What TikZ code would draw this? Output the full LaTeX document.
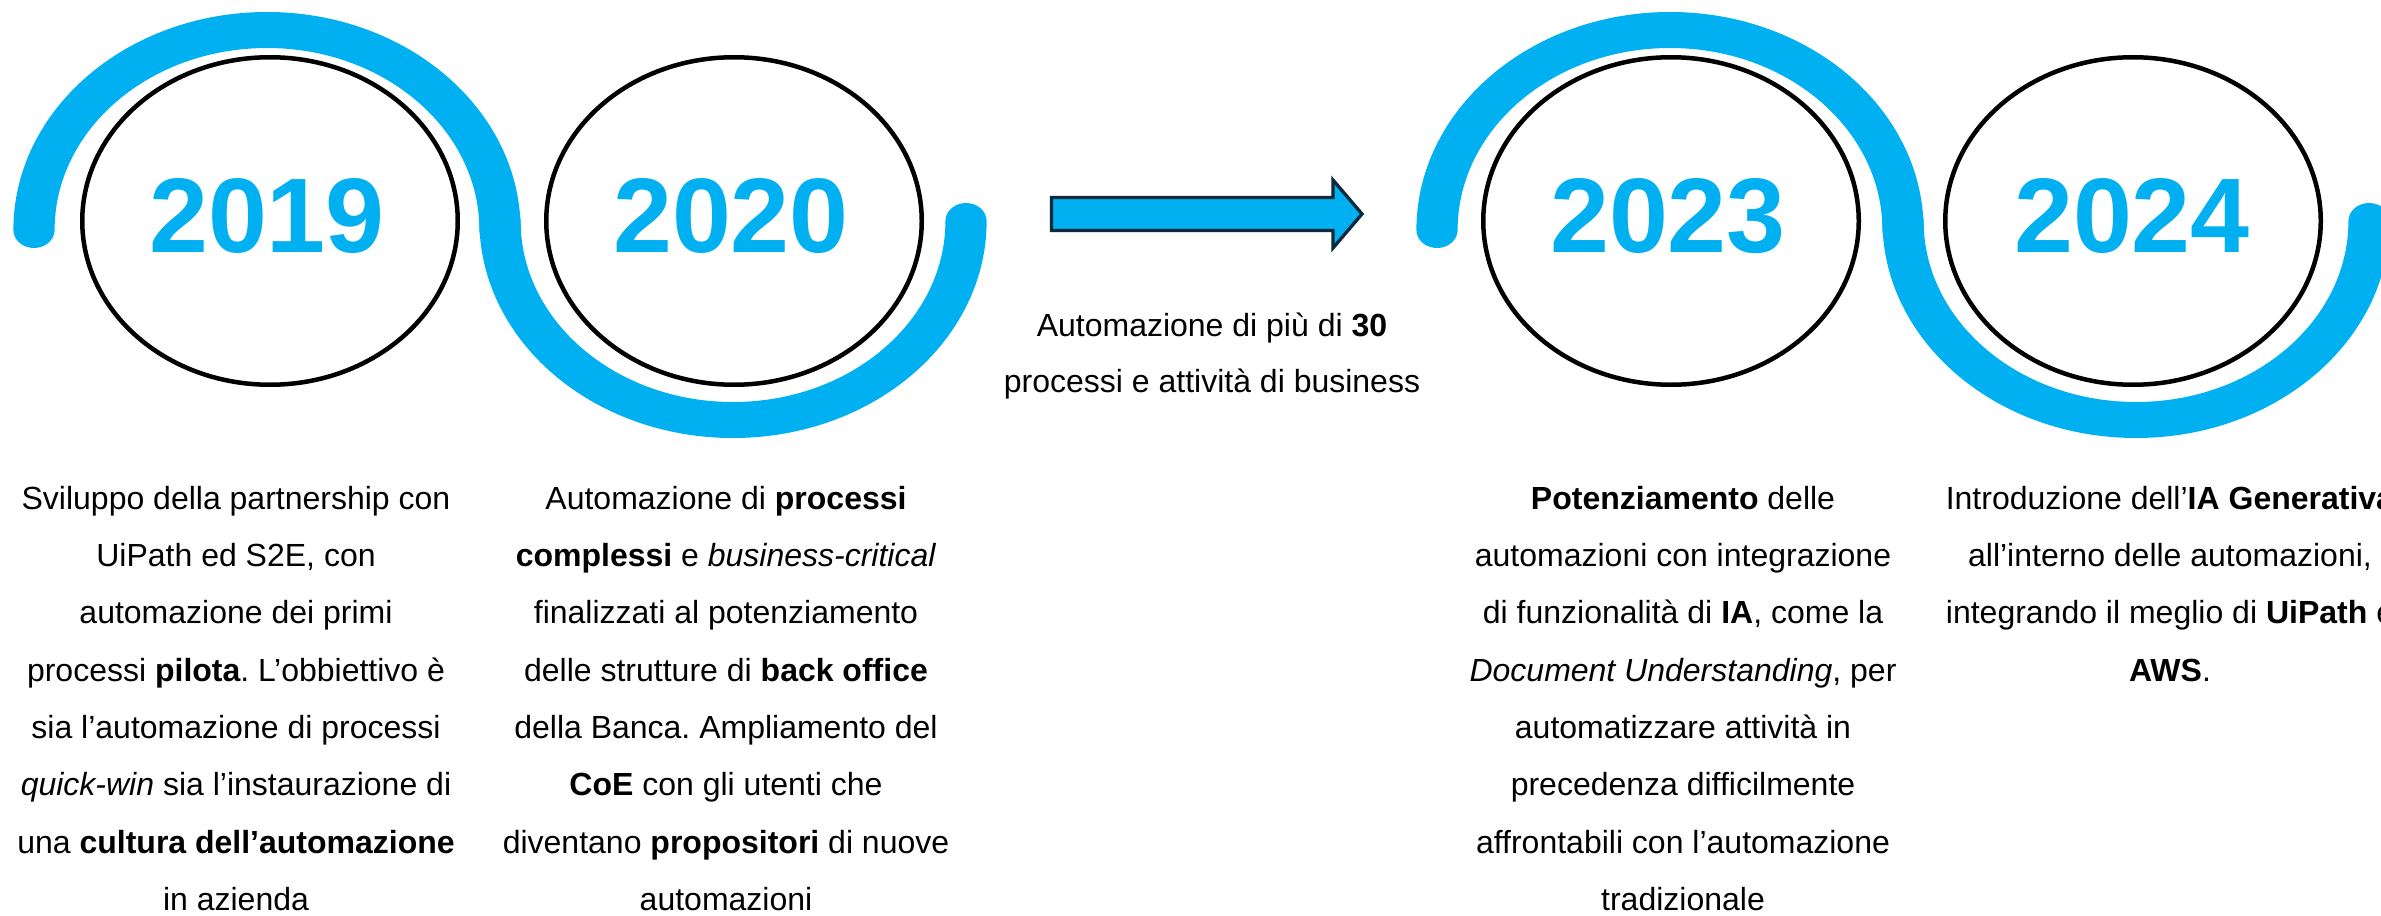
\documentclass[tikz,border=0pt]{standalone}
\usepackage{fontspec}
\setmainfont{Liberation Sans}
\usetikzlibrary{shapes.geometric}
\definecolor{ablue}{HTML}{00B0F0}
\definecolor{anavy}{HTML}{0D2A3B}
\frenchspacing
\begin{document}
\begin{tikzpicture}[x=1pt,y=-1pt,
  curve/.style={draw=ablue, line width=36pt, line cap=round},
  yearring/.style={ellipse, draw=black, line width=4.5pt, minimum width=375.5pt, minimum height=327.5pt, inner sep=0pt},
  yeartext/.style={font=\fontsize{106}{110}\selectfont\bfseries, text=ablue, inner sep=0pt},
  desc/.style={font=\fontsize{32}{57.3}\selectfont, align=center, inner sep=0pt, anchor=north, text=black},
  bigarrow/.style={fill=ablue, draw=anavy, line width=3.3pt, line join=miter}]
\useasboundingbox (0,0) rectangle (2381,915);
\clip (0,0) rectangle (2381,915);
\fill[white] (0,0) rectangle (2381,915);

% S-shaped blue ribbons (source graphic is stretched horizontally)
\begin{scope}[transform canvas={xscale=1.145}, x=0.873362pt, y=-1pt]
  \draw[curve] (34,230) arc[start angle=180, end angle=0, x radius=203.5pt, y radius=200pt];
  \draw[curve] (500,221) arc[start angle=180, end angle=360, x radius=203.5pt, y radius=199pt];
  \draw[curve] (1437,230) arc[start angle=180, end angle=0, x radius=203.5pt, y radius=200pt];
  \draw[curve] (1903,221) arc[start angle=180, end angle=360, x radius=203.5pt, y radius=199pt];
\end{scope}

% year rings
\node[yearring] (e2019) at (270,221) {};
\node[yearring] (e2020) at (734,221) {};
\node[yearring] (e2023) at (1671,221) {};
\node[yearring] (e2024) at (2133,221) {};

\node[yeartext] (t2019) at ([shift={(-3,-4.5)}]e2019.center) {2019};
\node[yeartext] (t2020) at ([shift={(-3,-4.5)}]e2020.center) {2020};
\node[yeartext] (t2023) at ([shift={(-3,-4.5)}]e2023.center) {2023};
\node[yeartext] (t2024) at ([shift={(-1,-4.5)}]e2024.center) {2024};

% arrow
\draw[bigarrow] (1051.5,197.5) -- (1333,197.5) -- (1333,180) -- (1362,214) -- (1333,248) -- (1333,230.5) -- (1051.5,230.5) -- cycle;

% middle text
\node[desc, font=\fontsize{32}{56}\selectfont] (mid) at (1212,312.5) {Automazione di più di \textbf{30}\\processi e attività di business};

% descriptions
\node[desc] (d2019) at (236,486) {Sviluppo della partnership con\\UiPath ed S2E, con\\automazione dei primi\\processi \textbf{pilota}. L’obbiettivo è\\sia l’automazione di processi\\\textit{quick-win} sia l’instaurazione di\\una \textbf{cultura dell’automazione}\\in azienda};
\node[desc] (d2020) at (726,486) {Automazione di \textbf{processi}\\\textbf{complessi} e \textit{business-critical}\\finalizzati al potenziamento\\delle strutture di \textbf{back office}\\della Banca. Ampliamento del\\\textbf{CoE} con gli utenti che\\diventano \textbf{propositori} di nuove\\automazioni};
\node[desc] (d2023) at (1683,486) {\textbf{Potenziamento} delle\\automazioni con integrazione\\di funzionalità di \textbf{IA}, come la\\\textit{Document Understanding}, per\\automatizzare attività in\\precedenza difficilmente\\affrontabili con l’automazione\\tradizionale};
\node[desc] (d2024) at (2170,486) {Introduzione dell’\textbf{IA Generativa}\\all’interno delle automazioni,\\integrando il meglio di \textbf{UiPath} e\\\textbf{AWS}.};
\end{tikzpicture}
\end{document}
